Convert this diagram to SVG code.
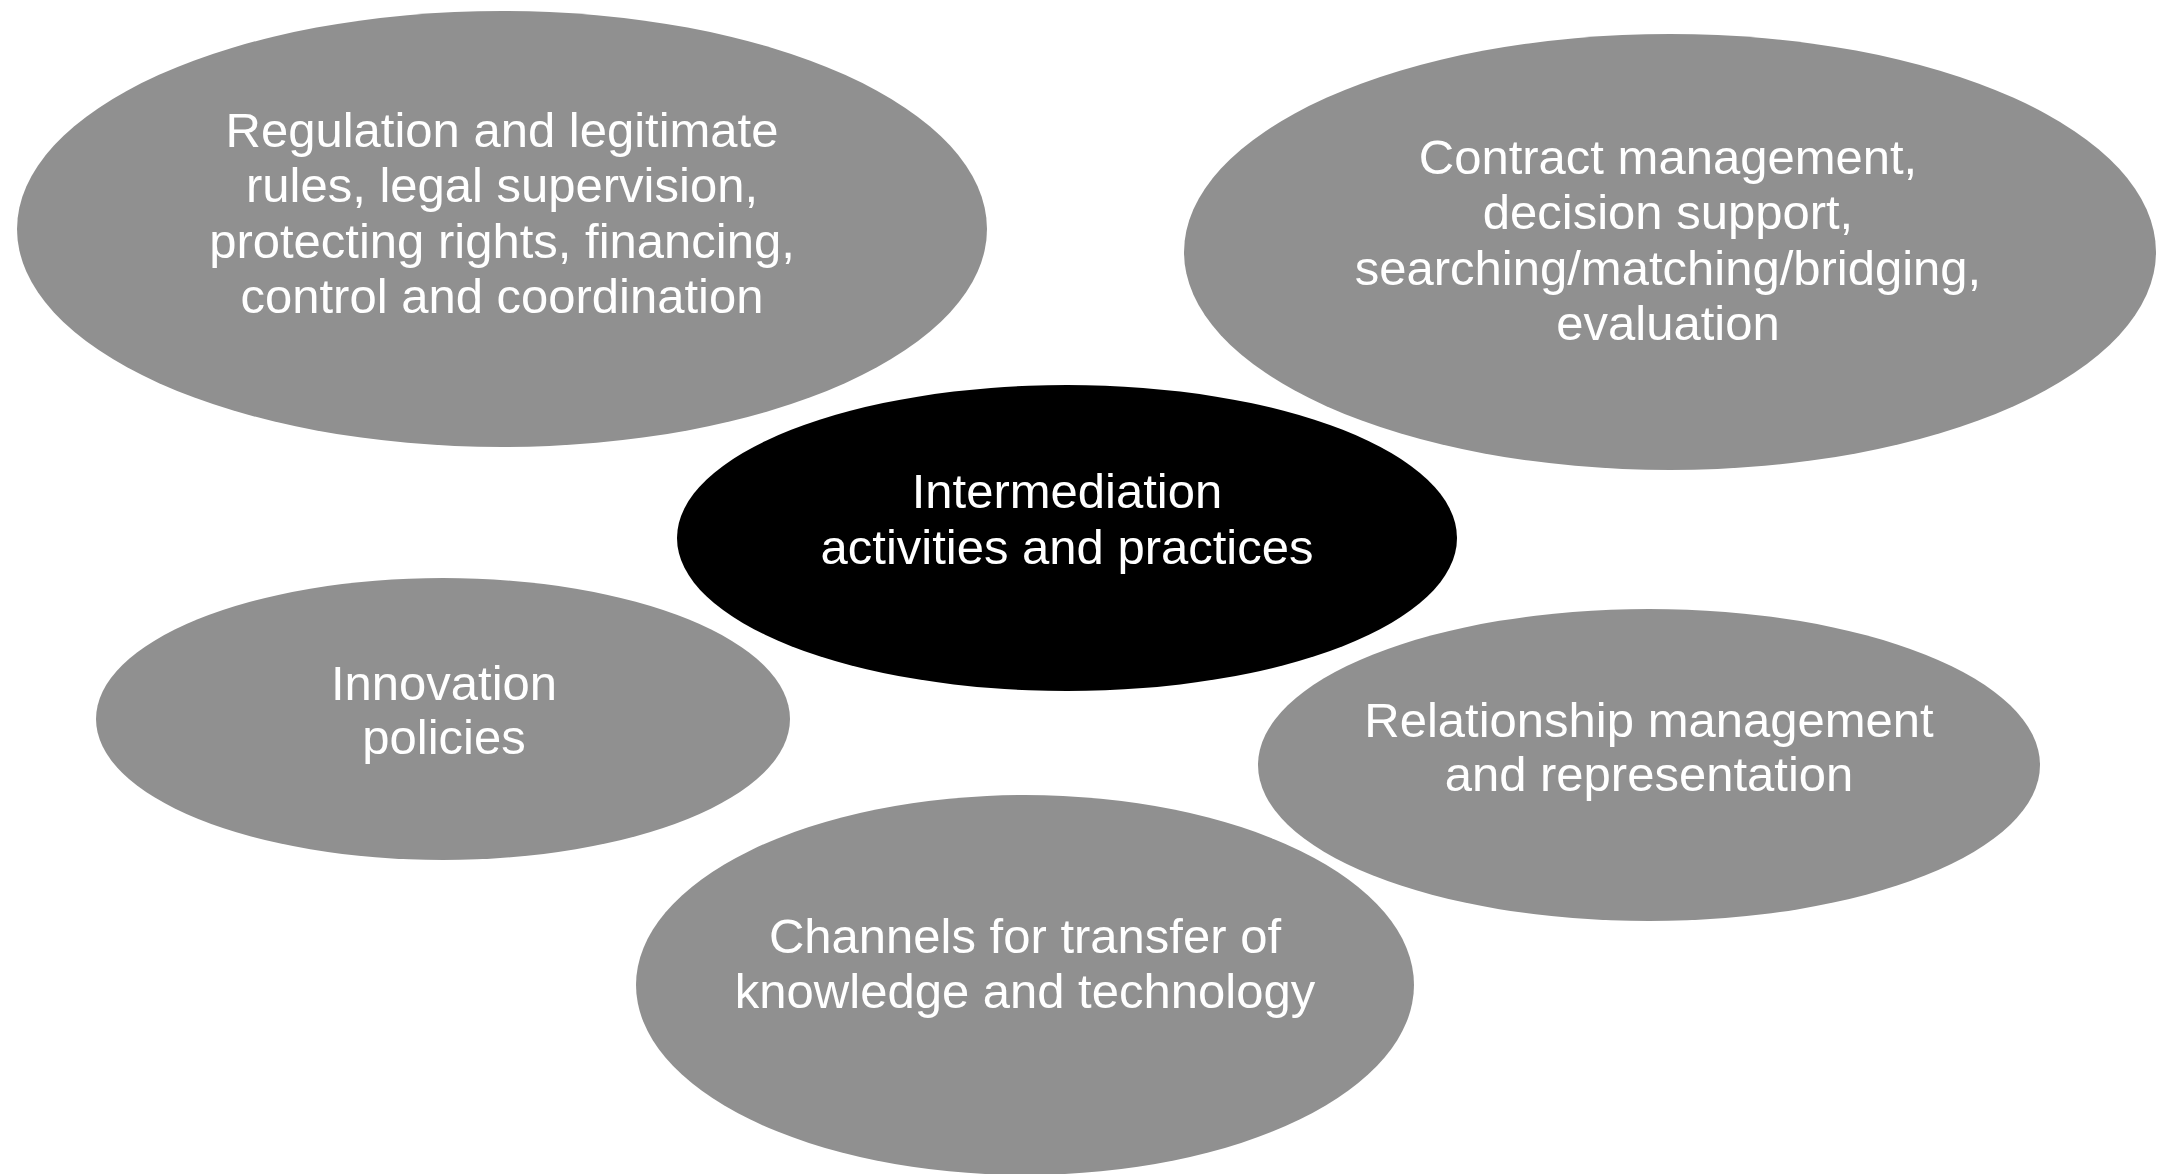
<svg xmlns="http://www.w3.org/2000/svg" width="2167" height="1174" viewBox="0 0 2167 1174">
<style>
.bub{fill:#909090;}
.core{fill:#000000;}
.t{font-family:"Liberation Sans",Arial,sans-serif;font-size:49px;fill:#ffffff;text-anchor:middle;}
</style>
<rect width="2167" height="1174" fill="#ffffff"/>
<g id="connectors"></g>
<g id="node-regulation">
<ellipse class="bub" cx="502" cy="229" rx="485" ry="218"/>
<text class="t" x="502" y="147">Regulation and legitimate</text>
<text class="t" x="502" y="202">rules, legal supervision,</text>
<text class="t" x="502" y="258">protecting rights, financing,</text>
<text class="t" x="502" y="313">control and coordination</text>
</g>
<g id="node-contract">
<ellipse class="bub" cx="1670" cy="252" rx="486" ry="218"/>
<text class="t" x="1668" y="174">Contract management,</text>
<text class="t" x="1668" y="229">decision support,</text>
<text class="t" x="1668" y="285">searching/matching/bridging,</text>
<text class="t" x="1668" y="340">evaluation</text>
</g>
<g id="node-center">
<ellipse class="core" cx="1067" cy="538" rx="390" ry="153"/>
<text class="t" x="1067" y="508">Intermediation</text>
<text class="t" x="1067" y="564">activities and practices</text>
</g>
<g id="node-innovation">
<ellipse class="bub" cx="443" cy="719" rx="347" ry="141"/>
<text class="t" x="444" y="700">Innovation</text>
<text class="t" x="444" y="754">policies</text>
</g>
<g id="node-relationship">
<ellipse class="bub" cx="1649" cy="765" rx="391" ry="156"/>
<text class="t" x="1649" y="737">Relationship management</text>
<text class="t" x="1649" y="791">and representation</text>
</g>
<g id="node-channels">
<ellipse class="bub" cx="1025" cy="985" rx="389" ry="190"/>
<text class="t" x="1025" y="953">Channels for transfer of</text>
<text class="t" x="1025" y="1008">knowledge and technology</text>
</g>
</svg>
